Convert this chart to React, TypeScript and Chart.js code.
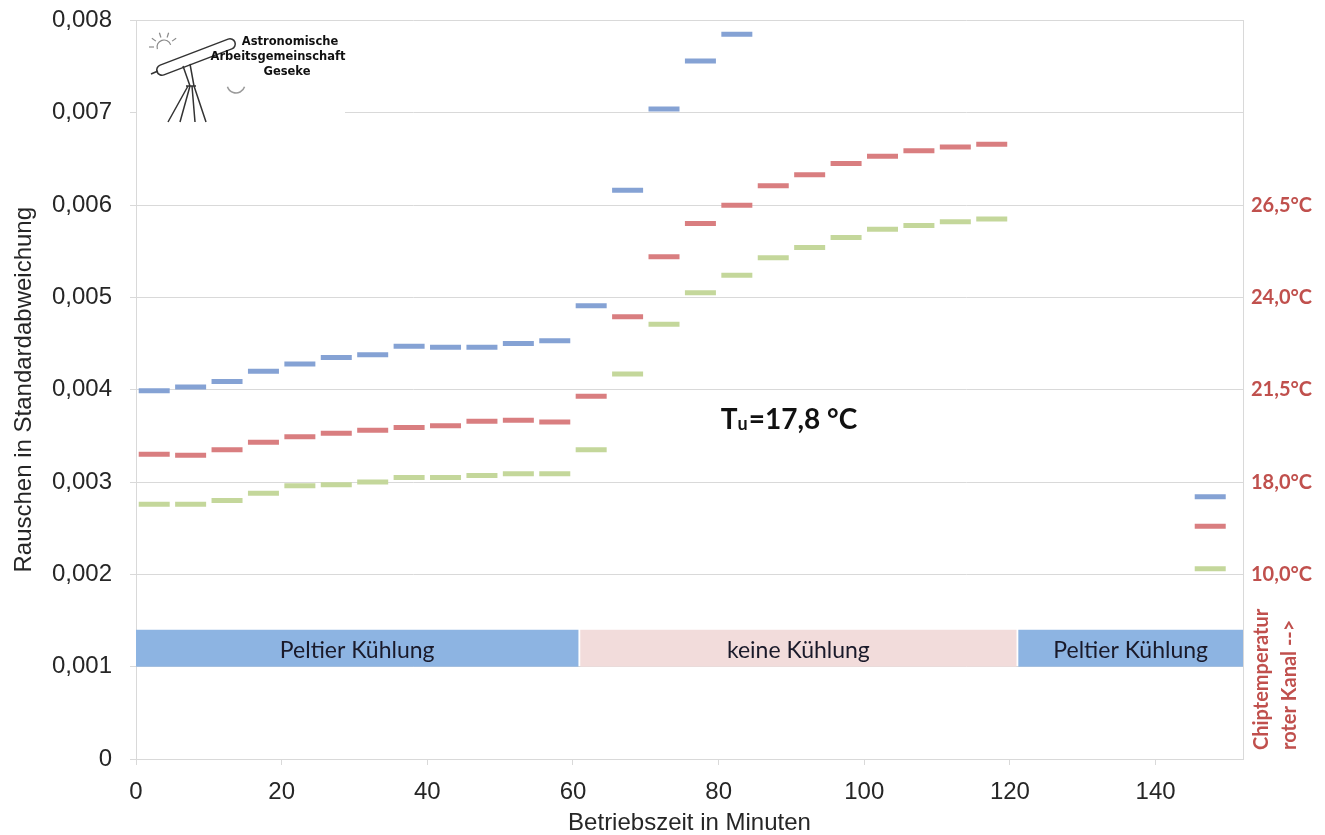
import React, { useEffect, useRef } from 'react';
import { Chart, registerables } from 'chart.js';

Chart.register(...registerables);

// ---- data ----
const timeMinutes = [2.5, 7.5, 12.5, 17.5, 22.5, 27.5, 32.5, 37.5, 42.5, 47.5, 52.5, 57.5, 62.5, 67.5, 72.5, 77.5, 82.5, 87.5, 92.5, 97.5, 102.5, 107.5, 112.5, 117.5, 147.5];
const blueNoise = [0.00399, 0.00403, 0.00409, 0.0042, 0.00428, 0.00435, 0.00438, 0.00447, 0.00446, 0.00446, 0.0045, 0.00453, 0.00491, 0.00616, 0.00704, 0.00756, 0.00785, null, null, null, null, null, null, null, 0.00284];
const redNoise = [0.0033, 0.00329, 0.00335, 0.00343, 0.00349, 0.00353, 0.00356, 0.00359, 0.00361, 0.00366, 0.00367, 0.00365, 0.00393, 0.00479, 0.00544, 0.0058, 0.006, 0.00621, 0.00633, 0.00645, 0.00653, 0.00659, 0.00663, 0.00666, 0.00252];
const greenNoise = [0.00276, 0.00276, 0.0028, 0.00288, 0.00296, 0.00297, 0.003, 0.00305, 0.00305, 0.00307, 0.00309, 0.00309, 0.00335, 0.00417, 0.00471, 0.00505, 0.00524, 0.00543, 0.00554, 0.00565, 0.00574, 0.00578, 0.00582, 0.00585, 0.00206];

const xTickValues = [0, 20, 40, 60, 80, 100, 120, 140];
const yTickValues = [0, 0.001, 0.002, 0.003, 0.004, 0.005, 0.006, 0.007, 0.008];
const rightTickValues = [0.002, 0.003, 0.004, 0.005, 0.006];
const rightTickLabels = ['10,0°C', '18,0°C', '21,5°C', '24,0°C', '26,5°C'];

const bandStarts = [0, 61, 121.15];
const bandEnds = [60.75, 120.9, 152];
const bandLow = 0.001;
const bandHigh = 0.0014;
const bandLabels = ['Peltier Kühlung', 'keine Kühlung', 'Peltier Kühlung'];
const bandColors = ['#8db4e2', '#f2dcdb', '#8db4e2'];

const tuX = 80.3;
const tuY = 0.00367;

const BLUE = '#85a2d4';
const RED = '#d97e80';
const GREEN = '#c4d79b';
const DARKRED = '#c0504d';
const GRID = '#d9d9d9';
const TEXT = '#262626';

const toPoints = (vals: (number | null)[]) =>
  vals.map((v, i) => ({ x: timeMinutes[i], y: v }));

const bgPlugin = {
  id: 'bg',
  beforeDraw(chart: any) {
    const { ctx, width, height } = chart;
    ctx.save();
    ctx.fillStyle = '#ffffff';
    ctx.fillRect(0, 0, width, height);
    ctx.restore();
  },
};

const drawLogo = (ctx: CanvasRenderingContext2D) => {
  ctx.save();
  ctx.fillStyle = '#ffffff';
  ctx.fillRect(137, 24, 208, 98);
  ctx.strokeStyle = '#8a8a8a';
  ctx.lineWidth = 1.2;
  // sun
  ctx.beginPath();
  ctx.arc(164, 47, 7, Math.PI * 0.9, Math.PI * 1.9);
  ctx.stroke();
  for (let k = 0; k < 5; k++) {
    const a = Math.PI * (1.0 + k * 0.2);
    ctx.beginPath();
    ctx.moveTo(164 + Math.cos(a) * 10, 47 + Math.sin(a) * 10);
    ctx.lineTo(164 + Math.cos(a) * 15, 47 + Math.sin(a) * 15);
    ctx.stroke();
  }
  // tube
  ctx.strokeStyle = '#333';
  ctx.lineWidth = 12;
  ctx.lineCap = 'round';
  ctx.beginPath();
  ctx.moveTo(162, 70);
  ctx.lineTo(230, 44);
  ctx.stroke();
  ctx.strokeStyle = '#fff';
  ctx.lineWidth = 9;
  ctx.beginPath();
  ctx.moveTo(162, 70);
  ctx.lineTo(230, 44);
  ctx.stroke();
  ctx.strokeStyle = '#333';
  ctx.lineWidth = 1.5;
  ctx.lineCap = 'butt';
  ctx.beginPath();
  ctx.moveTo(151, 74);
  ctx.lineTo(158, 71);
  ctx.stroke();
  // mount + legs
  ctx.beginPath();
  ctx.moveTo(183, 66);
  ctx.lineTo(190, 86);
  ctx.moveTo(190, 64);
  ctx.lineTo(194, 86);
  ctx.moveTo(186, 86);
  ctx.lineTo(196, 86);
  ctx.moveTo(188, 86);
  ctx.lineTo(168, 122);
  ctx.moveTo(190, 86);
  ctx.lineTo(180, 122);
  ctx.moveTo(192, 86);
  ctx.lineTo(195, 122);
  ctx.moveTo(194, 86);
  ctx.lineTo(206, 122);
  ctx.stroke();
  // moon
  ctx.strokeStyle = '#9a9a9a';
  ctx.beginPath();
  ctx.arc(236, 84, 9, Math.PI * 0.1, Math.PI * 0.9);
  ctx.stroke();
  // text
  ctx.fillStyle = '#111';
  ctx.font = 'bold 11.5px "DejaVu Sans"';
  ctx.textAlign = 'center';
  ctx.textBaseline = 'middle';
  ctx.fillText('Astronomische', 290, 42);
  ctx.fillText('Arbeitsgemeinschaft', 278, 57);
  ctx.fillText('Geseke', 287, 72);
  ctx.restore();
};

const bandsPlugin = {
  id: 'bands',
  beforeDatasetsDraw(chart: any) {
    const { ctx, scales } = chart;
    const xs = scales.x;
    const ys = scales.y;
    ctx.save();
    for (let i = 0; i < bandStarts.length; i++) {
      const x0 = xs.getPixelForValue(bandStarts[i]);
      const x1 = xs.getPixelForValue(bandEnds[i]);
      const y0 = ys.getPixelForValue(bandHigh);
      const y1 = ys.getPixelForValue(bandLow);
      ctx.fillStyle = bandColors[i];
      ctx.fillRect(x0, y0, x1 - x0, y1 - y0);
      ctx.fillStyle = '#1a1a2a';
      ctx.font = '23px Lato';
      ctx.textAlign = 'center';
      ctx.textBaseline = 'middle';
      ctx.fillText(bandLabels[i], (x0 + x1) / 2, (y0 + y1) / 2 + 2);
    }
    // T_u annotation
    const tx = xs.getPixelForValue(tuX);
    const ty = ys.getPixelForValue(tuY);
    ctx.fillStyle = '#111';
    ctx.textAlign = 'left';
    ctx.textBaseline = 'middle';
    ctx.font = 'bold 28px Lato';
    ctx.fillText('T', tx, ty);
    let w = ctx.measureText('T').width;
    ctx.font = 'bold 18px Lato';
    ctx.fillText('u', tx + w, ty + 4);
    w += ctx.measureText('u').width + 1;
    ctx.font = 'bold 28px Lato';
    ctx.fillText('=17,8 °C', tx + w, ty);
    drawLogo(ctx);
    ctx.restore();
  },
};

const rightTitlePlugin = {
  id: 'rightTitle',
  afterDraw(chart: any) {
    const { ctx } = chart;
    ctx.save();
    ctx.fillStyle = DARKRED;
    ctx.font = 'bold 20px Lato';
    ctx.textAlign = 'left';
    ctx.textBaseline = 'middle';
    ctx.translate(1262, 750);
    ctx.rotate(-Math.PI / 2);
    ctx.fillText('Chiptemperatur', 0, 0);
    ctx.fillText('roter Kanal -->', 0, 28);
    ctx.restore();
  },
};

const noVertPad = (s: any) => {
  s.paddingTop = 0;
  s.paddingBottom = 0;
};

export default function App() {
  const canvasRef = useRef<HTMLCanvasElement | null>(null);

  useEffect(() => {
    const canvas = canvasRef.current;
    if (!canvas) return;
    const pointDs = (label: string, vals: (number | null)[], color: string) => ({
      label,
      data: toPoints(vals),
      showLine: false,
      pointStyle: 'line',
      pointRadius: 15.5,
      pointHoverRadius: 15.5,
      pointBorderWidth: 5,
      pointHoverBorderWidth: 5,
      pointBorderColor: color,
      pointBackgroundColor: color,
      borderColor: color,
      backgroundColor: color,
    });
    const chart = new Chart(canvas, {
      type: 'line',
      data: {
        datasets: [
          pointDs('Blau', blueNoise, BLUE),
          pointDs('Rot', redNoise, RED),
          pointDs('Grün', greenNoise, GREEN),
        ] as any,
      },
      options: {
        animation: false,
        responsive: false,
        devicePixelRatio: 1,
        events: [],
        layout: { padding: { top: 20, left: 0, right: 0, bottom: 0 } },
        plugins: {
          legend: { display: false },
          tooltip: { enabled: false },
        },
        scales: {
          x: {
            type: 'linear',
            min: 0,
            max: 152,
            afterBuildTicks: (s: any) => {
              s.ticks = xTickValues.map((v) => ({ value: v }));
            },
            afterFit: (s: any) => {
              s.height = 76;
              s.paddingLeft = 0;
              s.paddingRight = 0;
            },
            grid: {
              drawOnChartArea: false,
              drawTicks: true,
              tickLength: 6,
              color: GRID,
            },
            border: { display: true, color: GRID, width: 1 },
            ticks: {
              padding: 13,
              color: TEXT,
              font: { family: '"Liberation Sans", Arial', size: 24 },
              maxRotation: 0,
              callback: (v: any) => String(v),
            },
            title: {
              display: true,
              text: 'Betriebszeit in Minuten',
              color: TEXT,
              font: { family: '"Liberation Sans", Arial', size: 24, lineHeight: 1 },
              padding: { top: 0, bottom: 0 },
            },
          },
          y: {
            type: 'linear',
            position: 'left',
            min: 0,
            max: 0.008,
            afterBuildTicks: (s: any) => {
              s.ticks = yTickValues.map((v) => ({ value: v }));
            },
            afterFit: (s: any) => {
              s.width = 136;
              noVertPad(s);
            },
            grid: {
              drawOnChartArea: true,
              drawTicks: true,
              tickLength: 6,
              color: GRID,
            },
            border: { display: true, color: GRID, width: 1 },
            ticks: {
              padding: 18,
              color: TEXT,
              font: { family: '"Liberation Sans", Arial', size: 24 },
              callback: (v: any) => (v === 0 ? '0' : Number(v).toFixed(3).replace('.', ',')),
            },
            title: {
              display: true,
              text: 'Rauschen in Standardabweichung',
              color: TEXT,
              font: { family: '"Liberation Sans", Arial', size: 24, lineHeight: 1 },
              padding: { top: 12, bottom: 0 },
            },
          },
          yRight: {
            type: 'linear',
            position: 'right',
            min: 0,
            max: 0.008,
            afterBuildTicks: (s: any) => {
              s.ticks = rightTickValues.map((v) => ({ value: v }));
            },
            afterFit: (s: any) => {
              s.width = 82;
              noVertPad(s);
            },
            grid: { drawOnChartArea: false, drawTicks: false },
            border: { display: true, color: GRID, width: 1 },
            ticks: {
              padding: 8,
              color: DARKRED,
              font: { family: 'Lato', size: 20, weight: 'bold' },
              callback: (v: any) => {
                const i = rightTickValues.findIndex((t) => Math.abs(t - Number(v)) < 1e-9);
                return i >= 0 ? rightTickLabels[i] : '';
              },
            },
          },
        },
      } as any,
      plugins: [bgPlugin, bandsPlugin, rightTitlePlugin],
    });
    return () => chart.destroy();
  }, []);

  return (
    <div style={{ position: 'fixed', left: 0, top: 0, width: 1325, height: 835, background: '#fff' }}>
      <canvas ref={canvasRef} width={1325} height={835} style={{ display: 'block' }} />
    </div>
  );
}
